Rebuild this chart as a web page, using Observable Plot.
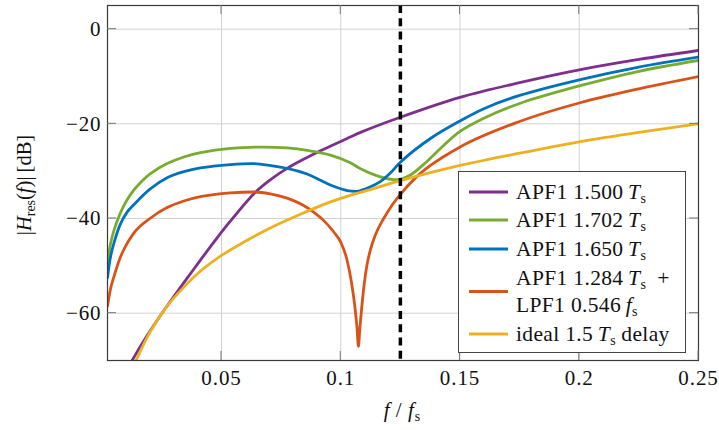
<!DOCTYPE html>
<html><head><meta charset="utf-8">
<script src="https://cdn.jsdelivr.net/npm/d3@7"></script>
<script src="https://cdn.jsdelivr.net/npm/@observablehq/plot@0.6"></script>
<style>
body{margin:0;background:#fff;font-family:"Liberation Serif","Times New Roman",serif;}
#wrap{position:relative;width:719px;height:430px;font-family:"Liberation Serif","Times New Roman",serif;color:#111;}
#legend{position:absolute;left:458px;top:171px;width:228px;height:182px;border:1px solid #444;background:#fff;box-sizing:border-box;font-size:21.5px;letter-spacing:0.35px;}
.row{position:absolute;left:0;display:flex;align-items:center;white-space:nowrap;}
.sw{display:inline-block;width:39px;height:3px;margin-left:10px;margin-right:8px;}
sub{font-size:14px;vertical-align:-4px;line-height:0;letter-spacing:0;}
#ylab{position:absolute;left:24px;top:185px;transform:translate(-50%,-50%) rotate(-90deg);font-size:20.5px;white-space:nowrap;}
#xlab{position:absolute;left:402px;top:410px;transform:translate(-50%,-50%);font-size:21px;letter-spacing:1px;white-space:nowrap;}
</style></head><body><div id="wrap"></div>
<script>
// Axis ticks
const xTicks = [0.05, 0.1, 0.15, 0.2, 0.25];
const xTickLabels = ["0.05", "0.1", "0.15", "0.2", "0.25"];
const yTicks = [0, -20, -40, -60];
const yTickLabels = ["0", "\u221220", "\u221240", "\u221260"];
const markerF = 0.125;

// Series
const seriesNames = ["APF1 1.500", "APF1 1.702", "APF1 1.650", "APF1 1.284 + LPF1 0.546", "ideal 1.5 delay"];
const seriesColors = ["#7E2F8E", "#77AC30", "#0072BD", "#D95319", "#EDB120"];

const fPurple = [0.011, 0.0132, 0.0185, 0.0244, 0.030, 0.0356, 0.041, 0.0468, 0.053, 0.0635, 0.07, 0.0775, 0.0915, 0.104, 0.1083, 0.125, 0.15, 0.175, 0.2, 0.225, 0.25];
const dbPurple = [-71.3, -69.4, -65.0, -60.5, -56.5, -52.6, -48.9, -45.0, -41.0, -34.8, -32.0, -29.4, -25.7, -22.8, -21.8, -18.6, -14.4, -11.3, -8.6, -6.4, -4.5];

const fGreen = [0.0022, 0.0035, 0.0049, 0.0077, 0.0105, 0.0132, 0.017, 0.0202, 0.0272, 0.0342, 0.0412, 0.0538, 0.0677, 0.0775, 0.0859, 0.0957, 0.104, 0.1083, 0.1166, 0.1236, 0.1292, 0.136, 0.1418, 0.15, 0.16, 0.175, 0.2, 0.225, 0.25];
const dbGreen = [-49.5, -45.3, -42.5, -38.7, -36.0, -34.0, -31.9, -30.5, -28.4, -27.0, -26.1, -25.2, -24.9, -25.1, -25.6, -26.6, -28.2, -29.5, -31.2, -31.8, -30.8, -28.0, -25.2, -21.6, -18.8, -15.7, -12.0, -8.9, -6.6];

const fBlue = [0.0022, 0.0035, 0.0049, 0.0075, 0.0105, 0.0132, 0.02, 0.0272, 0.0342, 0.0412, 0.0538, 0.0635, 0.0705, 0.0775, 0.0859, 0.0915, 0.097, 0.1027, 0.1075, 0.112, 0.1166, 0.121, 0.125, 0.1376, 0.15, 0.16, 0.175, 0.2, 0.225, 0.25];
const dbBlue = [-52.5, -48.0, -45.2, -41.3, -38.6, -37.1, -33.8, -31.4, -30.1, -29.3, -28.6, -28.4, -28.8, -29.4, -30.6, -31.9, -33.2, -34.1, -34.2, -33.4, -32.2, -30.3, -28.1, -23.1, -19.4, -16.8, -14.0, -10.7, -8.0, -5.9];

const fRed = [0.0022, 0.0035, 0.0049, 0.0075, 0.009, 0.0132, 0.02, 0.0272, 0.0342, 0.0412, 0.0538, 0.0635, 0.0705, 0.0775, 0.0835, 0.0885, 0.093, 0.097, 0.1, 0.1025, 0.1045, 0.106, 0.1068, 0.1074, 0.108, 0.1088, 0.1098, 0.111, 0.1125, 0.1145, 0.118, 0.1215, 0.125, 0.132, 0.1376, 0.15, 0.175, 0.2, 0.225, 0.25];
const dbRed = [-58.5, -54.8, -52.3, -48.3, -46.6, -43.1, -40.0, -37.7, -36.3, -35.4, -34.6, -34.4, -34.8, -35.7, -37.0, -38.6, -40.5, -42.8, -45.0, -48.5, -53.5, -59.0, -63.0, -67.0, -63.2, -58.8, -54.0, -49.8, -46.5, -43.5, -40.0, -37.2, -34.9, -31.1, -28.8, -24.9, -19.5, -15.6, -12.6, -10.0];

const fYellow = [0.0125, 0.0147, 0.02, 0.0272, 0.0342, 0.0412, 0.05, 0.06, 0.0692, 0.0831, 0.0957, 0.104, 0.1125, 0.125, 0.15, 0.175, 0.2, 0.225, 0.25];
const dbYellow = [-72.0, -69.4, -64.0, -58.5, -54.5, -51.1, -47.8, -44.8, -42.3, -39.1, -36.5, -35.1, -33.9, -32.0, -28.8, -26.2, -23.8, -21.8, -20.0];

const fs = [fPurple, fGreen, fBlue, fRed, fYellow];
const dbs = [dbPurple, dbGreen, dbBlue, dbRed, dbYellow];
const curves = ["catmull-rom", "catmull-rom", "catmull-rom", "monotone-x", "catmull-rom"];
const rows = [];
fs.forEach((fa, s) => fa.forEach((f, i) => rows.push({s, f, db: dbs[s][i]})));

const plot = Plot.plot({
  width: 719, height: 430,
  marginLeft: 107, marginRight: 21, marginTop: 5, marginBottom: 70,
  x: {domain: [0.0022, 0.25], label: null},
  y: {domain: [-70, 5], label: null},
  style: {fontFamily: "Liberation Serif", fontSize: "21px", color: "#111", background: "white", overflow: "visible"},
  marks: [
    Plot.gridX(xTicks, {stroke: "#d2d2d2", strokeOpacity: 1, strokeWidth: 1}),
    Plot.gridY(yTicks, {stroke: "#d2d2d2", strokeOpacity: 1, strokeWidth: 1}),
    Plot.axisX(xTicks, {tickSize: 0, tickPadding: 10, fontSize: 21, label: null, tickFormat: d => xTickLabels[xTicks.indexOf(d)]}),
    Plot.axisY(yTicks, {tickSize: 0, tickPadding: 6, fontSize: 21, label: null, tickFormat: d => yTickLabels[yTicks.indexOf(d)]}),
    ...seriesColors.map((c, s) => Plot.line(rows.filter(r => r.s === s), {x: "f", y: "db", stroke: c, strokeWidth: 2.8, curve: curves[s], clip: true})),
    Plot.ruleX([markerF], {stroke: "black", strokeWidth: 3.5, strokeDasharray: "8,5.3"}),
    Plot.frame({stroke: "#3a3a3a", strokeWidth: 1.2})
  ]
});

// inward tick marks using the plot's own scales
const sx = plot.scale("x"), sy = plot.scale("y");
const svg = d3.select(plot);
const g = svg.append("g").attr("stroke", "#777").attr("stroke-width", 1);
const [yb, yt] = [sy.apply(-70), sy.apply(5)];
const [xl, xr] = [sx.apply(0.0022), sx.apply(0.25)];
xTicks.forEach(t => {
  const x = sx.apply(t);
  g.append("line").attr("x1", x).attr("x2", x).attr("y1", yb).attr("y2", yb - 9);
  g.append("line").attr("x1", x).attr("x2", x).attr("y1", yt).attr("y2", yt + 9);
});
yTicks.forEach(t => {
  const y = sy.apply(t);
  g.append("line").attr("x1", xl).attr("x2", xl + 9).attr("y1", y).attr("y2", y);
  g.append("line").attr("x1", xr).attr("x2", xr - 9).attr("y1", y).attr("y2", y);
});
svg.selectAll("text")
  .style("font-family", "'Liberation Serif', 'Times New Roman', serif")
  .style("letter-spacing", "0.9px");

const wrap = document.getElementById("wrap");
wrap.appendChild(plot);
plot.style.position = "absolute"; plot.style.left = "0"; plot.style.top = "0";

// Axis labels
const ylab = document.createElement("div");
ylab.id = "ylab";
ylab.innerHTML = "|<i>H</i><sub>res</sub>(<i>f</i>)|&#8201;[dB]";
wrap.appendChild(ylab);
const xlab = document.createElement("div");
xlab.id = "xlab";
xlab.innerHTML = "<i>f</i>&#8201;/&#8201;<i>f</i><sub>s</sub>";
wrap.appendChild(xlab);

// Legend
const legendHTML = [
  "APF1 1.500&#8201;<i>T</i><sub>s</sub>",
  "APF1 1.702&#8201;<i>T</i><sub>s</sub>",
  "APF1 1.650&#8201;<i>T</i><sub>s</sub>",
  "APF1 1.284&#8201;<i>T</i><sub>s</sub>&nbsp; +<br>LPF1 0.546&#8201;<i>f</i><sub>s</sub>",
  "ideal 1.5&#8201;<i>T</i><sub>s</sub> delay"
];
const rowTops = [19.5, 48, 76.5, 119.5, 162];
const legend = document.createElement("div");
legend.id = "legend";
seriesColors.forEach((c, i) => {
  const r = document.createElement("div");
  r.className = "row";
  r.style.top = rowTops[i] + "px";
  r.style.transform = "translateY(-50%)";
  const sw = document.createElement("span");
  sw.className = "sw"; sw.style.background = c;
  const t = document.createElement("span");
  t.innerHTML = legendHTML[i];
  if (i === 3) t.style.lineHeight = "27px";
  r.appendChild(sw); r.appendChild(t);
  legend.appendChild(r);
});
wrap.appendChild(legend);
</script>
</body></html>
